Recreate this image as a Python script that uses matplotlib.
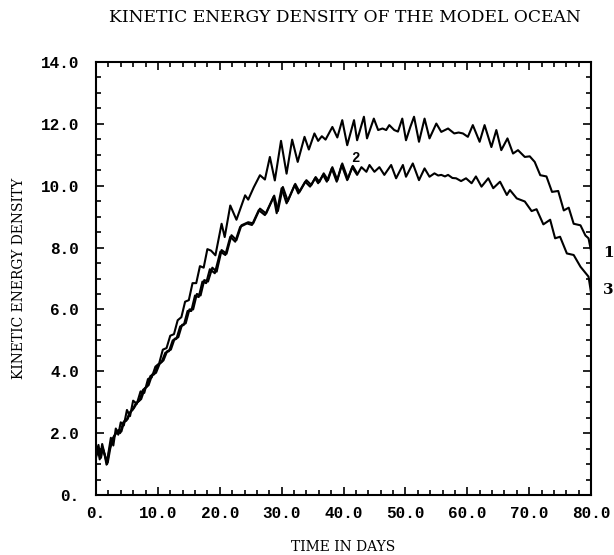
import matplotlib
matplotlib.use("Agg")
import matplotlib.pyplot as plt
from matplotlib.ticker import MultipleLocator, FixedLocator, FixedFormatter

# ---------------- data ----------------
days_1 = [0.0, 0.4, 0.7, 1.0, 1.3, 1.7, 2.0, 2.4, 2.8, 3.2, 3.6, 4.0, 4.5, 5.0, 5.5,
          6.0, 6.6, 7.2, 7.8, 8.4, 9.0, 9.6, 10.2, 10.8, 11.4, 12.0, 12.6, 13.2, 13.8,
          14.4, 15.0, 15.6, 16.2, 16.8, 17.4, 18.0, 18.6, 19.3, 20.3, 20.8, 21.7, 22.7,
          24.1, 24.6, 25.5, 26.5, 27.3, 28.1, 28.9, 29.9, 30.8, 31.7, 32.6, 33.7, 34.4,
          35.3, 35.9, 36.5, 37.1, 38.2, 39.0, 39.8, 40.6, 41.7, 42.2, 43.3, 43.8, 44.9,
          45.6, 46.3, 46.9, 47.4, 48.2, 48.8, 49.5, 50.1, 50.8, 51.4, 52.2, 53.1, 53.9,
          55.0, 55.8, 56.9, 57.9, 58.6, 59.3, 60.1, 60.9, 62.0, 62.8, 63.9, 64.7, 65.5,
          66.5, 67.4, 68.2, 69.3, 70.1, 70.9, 71.8, 72.8, 73.7, 74.7, 75.6, 76.4, 77.2,
          78.3, 79.1, 79.6, 80.0]
ke_1 = [1.35, 1.62, 1.25, 1.65, 1.40, 0.98, 1.35, 1.85, 1.60, 2.15, 1.95, 2.35, 2.25,
        2.75, 2.55, 3.05, 2.95, 3.35, 3.30, 3.75, 3.80, 4.15, 4.25, 4.70, 4.75, 5.15,
        5.20, 5.65, 5.75, 6.25, 6.30, 6.85, 6.85, 7.40, 7.35, 7.95, 7.90, 7.75, 8.77,
        8.34, 9.36, 8.90, 9.69, 9.55, 9.95, 10.34, 10.20, 10.93, 10.17, 11.45, 10.39,
        11.49, 10.77, 11.58, 11.17, 11.69, 11.45, 11.60, 11.49, 11.90, 11.56, 12.12,
        11.31, 12.12, 11.47, 12.23, 11.53, 12.17, 11.80, 11.85, 11.80, 11.96, 11.80,
        11.75, 12.17, 11.47, 11.90, 12.23, 11.42, 12.17, 11.53, 12.01, 11.74, 11.85,
        11.69, 11.72, 11.69, 11.58, 11.96, 11.42, 11.96, 11.25, 11.80, 11.15, 11.53,
        11.04, 11.15, 10.93, 10.95, 10.77, 10.34, 10.30, 9.80, 9.83, 9.20, 9.29, 8.77,
        8.72, 8.39, 8.30, 7.90]

days_3 = [0.0, 0.3, 0.6, 1.0, 1.4, 1.8, 2.1, 2.5, 2.9, 3.4, 3.9, 4.4, 4.9, 5.4, 5.9,
          6.4, 7.0, 7.6, 8.2, 8.8, 9.4, 10.0, 10.6, 11.2, 11.8, 12.4, 13.0, 13.6, 14.2,
          14.8, 15.4, 16.0, 16.6, 17.2, 17.8, 18.4, 19.2, 20.1, 20.9, 21.7, 22.5, 23.3,
          24.4, 25.2, 26.3, 27.3, 28.7, 29.2, 30.0, 30.8, 32.1, 32.7, 33.8, 34.6, 35.4,
          35.9, 36.7, 37.3, 38.1, 38.9, 39.7, 40.6, 41.4, 42.2, 42.9, 43.7, 44.2, 45.0,
          45.8, 46.6, 47.7, 48.5, 49.6, 50.1, 51.2, 52.2, 53.1, 53.9, 54.7, 55.3, 55.8,
          56.4, 56.9, 57.6, 58.2, 59.0, 59.8, 60.7, 61.4, 62.3, 63.4, 64.2, 65.3, 66.4,
          66.9, 68.0, 69.3, 70.4, 71.2, 72.3, 73.4, 74.2, 75.0, 76.1, 77.2, 78.3, 79.6,
          80.0]
ke_3 = [1.20, 1.50, 1.15, 1.55, 1.30, 1.00, 1.40, 1.75, 1.90, 2.05, 2.00, 2.35, 2.40,
        2.65, 2.75, 2.95, 3.05, 3.40, 3.50, 3.85, 3.90, 4.20, 4.30, 4.60, 4.65, 5.00,
        5.05, 5.45, 5.50, 5.95, 5.95, 6.45, 6.40, 6.90, 6.85, 7.30, 7.17, 7.87, 7.76,
        8.35, 8.19, 8.67, 8.78, 8.73, 9.21, 9.05, 9.64, 9.11, 9.92, 9.43, 10.02, 9.75,
        10.13, 9.97, 10.24, 10.08, 10.35, 10.13, 10.56, 10.13, 10.67, 10.18, 10.60,
        10.35, 10.60, 10.45, 10.67, 10.45, 10.60, 10.35, 10.67, 10.24, 10.67, 10.29,
        10.72, 10.18, 10.56, 10.29, 10.40, 10.33, 10.35, 10.30, 10.35, 10.25, 10.24,
        10.15, 10.24, 10.08, 10.30, 9.97, 10.24, 9.92, 10.13, 9.70, 9.86, 9.59, 9.49,
        9.18, 9.24, 8.75, 8.90, 8.30, 8.35, 7.81, 7.76, 7.38, 7.06, 6.55]

days_2 = [0.0, 0.4, 0.8, 1.1, 1.5, 1.9, 2.3, 2.7, 3.1, 3.6, 4.1, 4.6, 5.1, 5.6, 6.1,
          6.7, 7.3, 7.9, 8.5, 9.1, 9.7, 10.3, 10.9, 11.5, 12.1, 12.7, 13.3, 13.9, 14.5,
          15.1, 15.7, 16.3, 16.9, 17.5, 18.1, 18.8, 19.5, 20.3, 21.1, 21.9, 22.7, 23.5,
          24.6, 25.4, 26.5, 27.5, 28.8, 29.4, 30.2, 31.0, 32.2, 32.9, 34.0, 34.8, 35.5,
          36.1, 36.8, 37.5, 38.2, 39.0, 39.8, 40.7, 41.5, 42.2]
ke_2 = [1.25, 1.45, 1.20, 1.50, 1.25, 1.05, 1.50, 1.80, 1.95, 2.10, 2.05, 2.40, 2.45,
        2.70, 2.80, 3.00, 3.10, 3.45, 3.55, 3.90, 3.95, 4.25, 4.35, 4.65, 4.70, 5.05,
        5.10, 5.50, 5.55, 6.00, 6.00, 6.50, 6.45, 6.95, 6.90, 7.35, 7.22, 7.92, 7.80,
        8.40, 8.24, 8.72, 8.82, 8.78, 9.26, 9.10, 9.68, 9.18, 9.96, 9.50, 10.06, 9.80,
        10.18, 10.02, 10.28, 10.12, 10.40, 10.18, 10.60, 10.18, 10.72, 10.22, 10.64,
        10.40]

y_ticks = [0, 2, 4, 6, 8, 10, 12, 14]
y_labels = ["0.", "2.0", "4.0", "6.0", "8.0", "10.0", "12.0", "14.0"]
x_ticks = [0, 10, 20, 30, 40, 50, 60, 70, 80]
x_labels = ["0.", "10.0", "20.0", "30.0", "40.0", "50.0", "60.0", "70.0", "80.0"]

# ---------------- figure ----------------
fig = plt.figure(figsize=(6.14, 5.55), dpi=100)
ax = fig.add_axes([96 / 614, 60 / 555, 495 / 614, 433 / 555])

lw = 1.5
for d, v in ((days_1, ke_1), (days_2, ke_2), (days_3, ke_3)):
    ax.plot(d, v, color="black", lw=lw, solid_joinstyle="round", solid_capstyle="round")

ax.set_xlim(0, 80)
ax.set_ylim(0, 14)

ax.xaxis.set_major_locator(FixedLocator(x_ticks))
ax.xaxis.set_major_formatter(FixedFormatter(x_labels))
ax.yaxis.set_major_locator(FixedLocator(y_ticks))
ax.yaxis.set_major_formatter(FixedFormatter(y_labels))
ax.xaxis.set_minor_locator(MultipleLocator(2))
ax.yaxis.set_minor_locator(MultipleLocator(0.5))

ax.tick_params(which="both", direction="in", top=True, right=True, width=1.2, color="black")
ax.tick_params(which="major", length=6)
ax.tick_params(which="minor", length=3.5)
ax.tick_params(axis="y", which="major", pad=12)
ax.tick_params(axis="x", which="major", pad=8)
for lab in ax.get_xticklabels() + ax.get_yticklabels():
    lab.set_fontfamily("Liberation Mono")
    lab.set_fontweight("bold")
    lab.set_fontsize(11.5)

for sp in ax.spines.values():
    sp.set_linewidth(1.5)

serif = "DejaVu Serif"
fig.text((96 + 591) / 2 / 614 + 0.003, 1 - 17 / 555,
         "KINETIC ENERGY DENSITY OF THE MODEL OCEAN",
         ha="center", va="center", fontsize=12.3, family=serif)
fig.text((96 + 591) / 2 / 614, 1 - 547 / 555, "TIME IN DAYS", ha="center", va="center",
         fontsize=10, family=serif)
fig.text(19 / 614, 1 - 278 / 555, "KINETIC ENERGY DENSITY", ha="center", va="center",
         rotation=90, fontsize=10, family=serif)

ax.text(82.0, 7.82, "1", ha="left", va="center", fontsize=11, fontweight="bold",
        family=serif, clip_on=False)
ax.text(82.0, 6.63, "3", ha="left", va="center", fontsize=11, fontweight="bold",
        family=serif, clip_on=False)
ax.text(41.9, 10.88, "2", ha="center", va="center", fontsize=10, family="Liberation Mono",
        fontweight="bold")

fig.savefig("out.png", dpi=100)
